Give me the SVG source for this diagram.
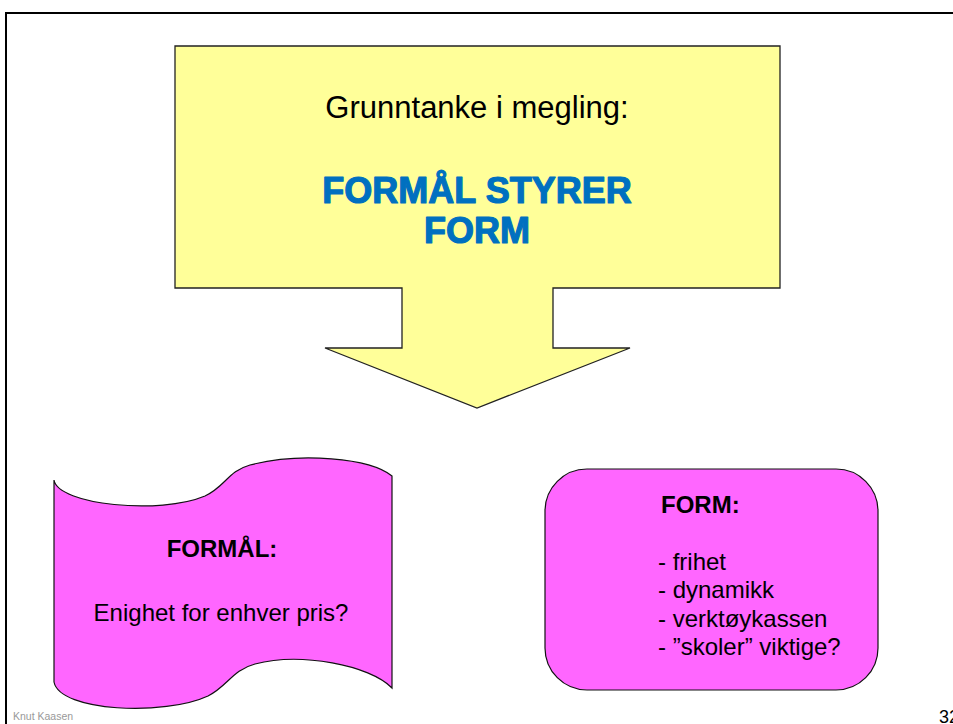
<svg xmlns="http://www.w3.org/2000/svg" width="953" height="724" viewBox="0 0 953 724">
  <style>
    text { font-family: "Liberation Sans", Arial, sans-serif; fill: #000; }
    .frame { fill: none; stroke: #000; stroke-width: 2; }
    .callout { fill: #FFFF99; stroke: #222; stroke-width: 1.3; stroke-linejoin: miter; }
    .pink { fill: #FF66FF; stroke: #111; stroke-width: 1.2; }
    .title { font-size: 36px; font-weight: bold; fill: #0070C0; stroke: #0070C0; stroke-width: 1.2; stroke-linejoin: round; text-anchor: middle; }
    .sub { font-size: 31px; text-anchor: middle; }
    .body { font-size: 24px; }
    .bold { font-weight: bold; }
    .footer { font-size: 10.5px; fill: #999; }
  </style>
  <rect width="953" height="724" fill="#fff"/>
  <rect class="frame" x="6" y="13" width="1000" height="800"/>

  <g id="grunntanke">
    <path class="callout" d="M175,46 L780,46 L780,288 L553,288 L553,348 L630,348 L477,408 L325,348 L402,348 L402,288 L175,288 Z"/>
    <text class="sub" x="477" y="118">Grunntanke i megling:</text>
    <text class="title" x="477" y="203">FORMÅL STYRER</text>
    <text class="title" x="477" y="243">FORM</text>
  </g>

  <g id="formal">
    <path class="pink" d="M54,480 C58,505 160,515 205,496 C225,487 228,471 250,465 C300,452 370,458 392,476 L392,688 C370,665 300,652 255,664 C232,670 228,686 208,696 C165,716 60,712 54,682 Z"/>
    <text class="body bold" x="222" y="557" text-anchor="middle">FORMÅL:</text>
    <text class="body" x="221" y="621" text-anchor="middle">Enighet for enhver pris?</text>
  </g>

  <g id="form">
    <rect class="pink" x="545" y="469" width="333" height="221" rx="42" ry="42"/>
    <text class="body bold" x="661" y="513">FORM:</text>
    <text class="body" x="658" y="570">- frihet</text>
    <text class="body" x="658" y="598">- dynamikk</text>
    <text class="body" x="658" y="627">- verktøykassen</text>
    <text class="body" x="658" y="655">- ”skoler” viktige?</text>
  </g>

  <g id="connectors"></g>

  <text class="footer" x="13" y="720">Knut Kaasen</text>
  <text x="939" y="723" font-size="18">32</text>
</svg>
